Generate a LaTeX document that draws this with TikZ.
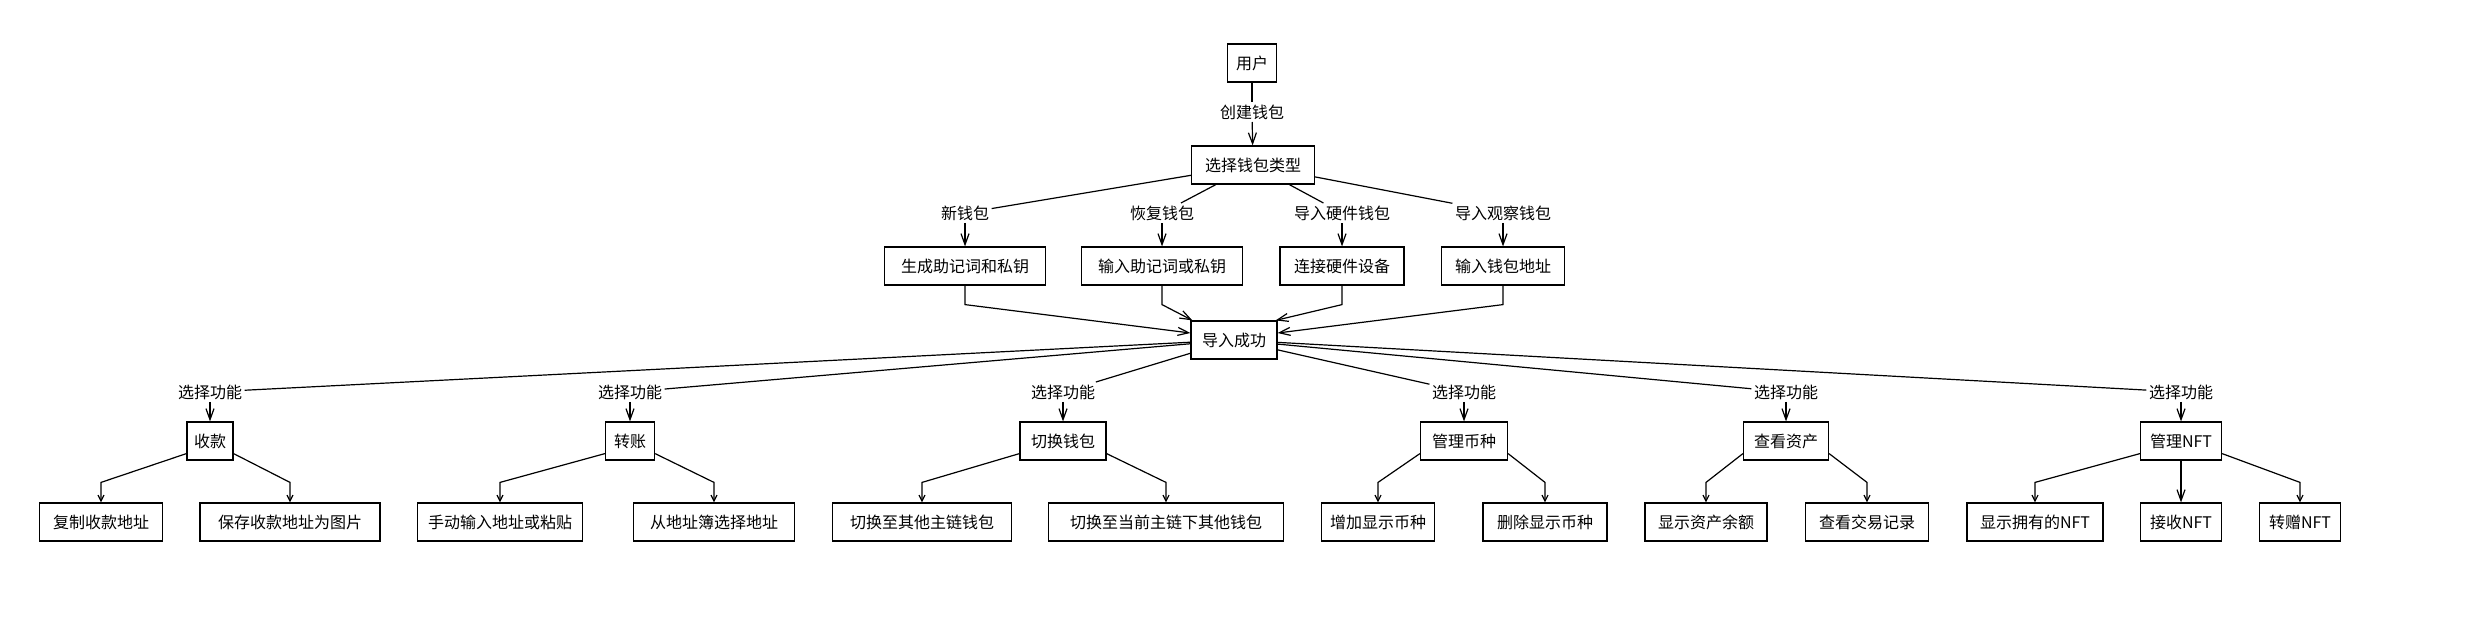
\documentclass[tikz,border=0pt]{standalone}
\usepackage{fontspec}
\newfontfamily\cjk{Noto Sans CJK SC}
\usetikzlibrary{arrows.meta}
\begin{document}
\begin{tikzpicture}[x=1pt,y=-1pt,line width=1.2pt,
    font=\cjk\fontsize{16}{19}\selectfont,
    box/.style={draw,minimum height=38,inner xsep=0,fill=white},
    lbl/.style={fill=white,inner sep=2},
    arr/.style={-{Straight Barb[length=11,width=8]}},
    sarr/.style={-{Straight Barb[length=6,width=6]}}]
        \useasboundingbox (0,0) rectangle (2468,616);
        \node[box,minimum width=49] (user) at (1252,63) {用户};
        \node[lbl] (create) at (1252,112) {创建钱包};
        \node[box,minimum width=123] (type) at (1253,165) {选择钱包类型};
        \node[lbl] (new) at (965,213) {新钱包};
        \node[lbl] (restore) at (1162,213) {恢复钱包};
        \node[lbl] (hw) at (1342,213) {导入硬件钱包};
        \node[lbl] (watch) at (1503,213) {导入观察钱包};
        \node[box,minimum width=161] (gen) at (965,266) {生成助记词和私钥};
        \node[box,minimum width=161] (input) at (1162,266) {输入助记词或私钥};
        \node[box,minimum width=124] (connect) at (1342,266) {连接硬件设备};
        \node[box,minimum width=123] (addr) at (1503,266) {输入钱包地址};
        \node[box,minimum width=86] (succ) at (1234,340) {导入成功};
        \draw (user)--(create);
        \draw[arr] (create)--(type);
        \foreach \l/\b in {new/gen,restore/input,hw/connect,watch/addr}{
            \draw (type)--(\l);
            \draw[arr] (\l)--(\b);}
        \draw[arr] (gen.south)--++(0,19)--([yshift=7]succ.west);
        \draw[arr] (input.south)--++(0,19)--([xshift=2]succ.north west);
        \draw[arr] (connect.south)--++(0,19)--([xshift=-2]succ.north east);
        \draw[arr] (addr.south)--++(0,19)--([yshift=7]succ.east);
        \node[box,minimum width=46] (recv) at (210,441) {收款};
        \node[box,minimum width=49] (send) at (630,441) {转账};
        \node[box,minimum width=86] (switch) at (1063,441) {切换钱包};
        \node[box,minimum width=87] (coin) at (1464,441) {管理币种};
        \node[box,minimum width=85] (asset) at (1786,441) {查看资产};
        \node[box,minimum width=81] (nft) at (2181,441) {管理NFT};
        \foreach \f/\x in {recv/210,send/630,switch/1063,coin/1464,asset/1786,nft/2181}{
            \node[lbl] (sel\f) at (\x,392) {选择功能};
            \draw (succ)--(sel\f);
            \draw[arr] (sel\f)--(\f);}
        \node[box,minimum width=123] (copy) at (101,522) {复制收款地址};
        \node[box,minimum width=180] (save) at (290,522) {保存收款地址为图片};
        \node[box,minimum width=165] (manual) at (500,522) {手动输入地址或粘贴};
        \node[box,minimum width=161] (book) at (714,522) {从地址簿选择地址};
        \node[box,minimum width=179] (other) at (922,522) {切换至其他主链钱包};
        \node[box,minimum width=235] (current) at (1166,522) {切换至当前主链下其他钱包};
        \node[box,minimum width=113] (add) at (1378,522) {增加显示币种};
        \node[box,minimum width=124] (del) at (1545,522) {删除显示币种};
        \node[box,minimum width=122] (bal) at (1706,522) {显示资产余额};
        \node[box,minimum width=123] (hist) at (1867,522) {查看交易记录};
        \node[box,minimum width=136] (own) at (2035,522) {显示拥有的NFT};
        \node[box,minimum width=81] (getnft) at (2181,522) {接收NFT};
        \node[box,minimum width=81] (gift) at (2300,522) {转赠NFT};
        \foreach \p/\c/\s in {recv/copy/west,recv/save/east,send/manual/west,send/book/east,
            switch/other/west,switch/current/east,coin/add/west,coin/del/east,
            asset/bal/west,asset/hist/east,nft/own/west,nft/gift/east}
            \draw[sarr] ([yshift=7]\p.south \s)--([yshift=20]\c.north)--(\c.north);
        \draw[arr] (nft)--(getnft);
    \end{tikzpicture}
\end{document}
